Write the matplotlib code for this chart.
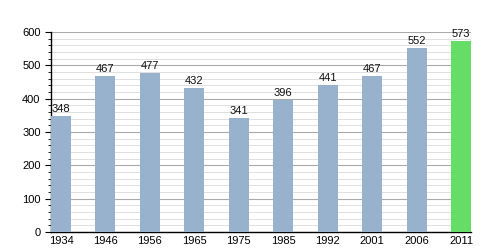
import matplotlib.pyplot as plt
from matplotlib.ticker import MultipleLocator

years = ['1934', '1946', '1956', '1965', '1975', '1985', '1992', '2001', '2006', '2011']
population = [348, 467, 477, 432, 341, 396, 441, 467, 552, 573]
colors = ['#98b1cc'] * 9 + ['#66dd66']

plt.rcParams['font.family'] = ['Liberation Sans', 'DejaVu Sans']

fig = plt.figure(figsize=(5, 2.5), dpi=100)
ax = fig.add_axes([0.102, 0.072, 0.84, 0.8])

x = range(len(years))
bars = ax.bar(x, population, width=0.45, color=colors, zorder=3)
for bar, v in zip(bars, population):
    ax.text(bar.get_x() + bar.get_width() / 2, v + 7, str(v),
            ha='center', va='bottom', fontsize=8, color='#111111', zorder=4)

ax.set_xlim(-0.225, len(years) - 1 + 0.225)
ax.set_ylim(0, 600)
ax.set_xticks(list(x))
ax.set_xticklabels(years)
ax.yaxis.set_major_locator(MultipleLocator(100))
ax.yaxis.set_minor_locator(MultipleLocator(20))
ax.grid(axis='y', which='major', color='#aaaaaa', linewidth=0.8, zorder=1)
ax.grid(axis='y', which='minor', color='#e0e0e0', linewidth=0.7, zorder=1)

for side in ['top', 'right']:
    ax.spines[side].set_visible(False)
ax.spines['left'].set_linewidth(1)
ax.spines['bottom'].set_linewidth(1)
ax.tick_params(axis='x', length=0, labelsize=8, pad=3)
ax.tick_params(axis='y', which='major', length=4, labelsize=8)
ax.tick_params(axis='y', which='minor', length=2)

fig.savefig('out.png', dpi=100)
